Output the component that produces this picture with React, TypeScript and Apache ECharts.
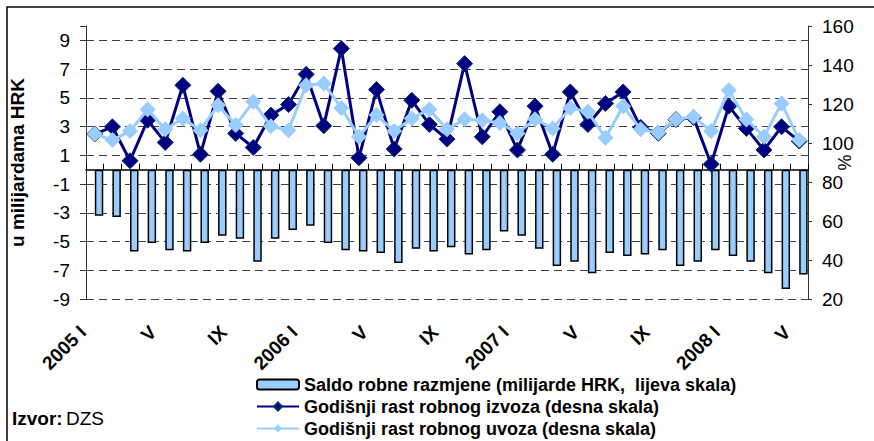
import React, { useEffect, useRef } from "react";
import * as echarts from "echarts";

const categories = [
  "2005 I", "II", "III", "IV", "V", "VI", "VII", "VIII", "IX", "X", "XI", "XII",
  "2006 I", "II", "III", "IV", "V", "VI", "VII", "VIII", "IX", "X", "XI", "XII",
  "2007 I", "II", "III", "IV", "V", "VI", "VII", "VIII", "IX", "X", "XI", "XII",
  "2008 I", "II", "III", "IV", "V",
];

const saldo = [
  -3.2, -3.3, -5.7, -5.1, -5.6, -5.7, -5.1, -4.6, -4.8, -6.4,
  -4.8, -4.2, -3.9, -5.1, -5.6, -5.7, -5.8, -6.5, -5.5, -5.7,
  -5.4, -5.9, -5.6, -4.3, -4.6, -5.5, -6.7, -6.4, -7.2, -5.8,
  -6.0, -5.9, -5.6, -6.7, -6.4, -5.6, -6.0, -6.4, -7.2, -8.3, -7.3,
];

const izvoz = [
  104.6, 108.3, 90.9, 111.7, 100.3, 129.6, 94.2, 126.5, 104.9, 97.7,
  114.3, 119.7, 135.2, 108.8, 148.4, 92.4, 127.4, 96.9, 121.9, 109.5,
  102.0, 140.7, 103.2, 116.0, 96.4, 118.9, 94.2, 126.2, 109.5, 120.3,
  126.2, 108.0, 105.0, 112.0, 113.0, 89.1, 118.9, 107.5, 96.4, 108.3, 101.0,
];

const uvoz = [
  104.6, 101.5, 106.1, 117.2, 107.0, 112.6, 106.6, 119.4, 109.2, 121.1,
  108.6, 106.6, 129.6, 130.5, 118.0, 103.2, 114.3, 106.1, 112.6, 117.2,
  107.0, 112.2, 111.7, 110.3, 104.9, 112.2, 107.5, 118.0, 116.0, 102.7,
  118.9, 107.0, 105.2, 112.1, 113.4, 106.1, 127.1, 112.1, 103.2, 120.3, 101.5,
];

const NAME_SALDO = "Saldo robne razmjene (milijarde HRK,  lijeva skala)";
const NAME_IZVOZ = "Godišnji rast robnog izvoza (desna skala)";
const NAME_UVOZ = "Godišnji rast robnog uvoza (desna skala)";

const FONT = "Arial, 'Liberation Sans', sans-serif";

export default function App() {
  const ref = useRef<HTMLDivElement>(null);

  useEffect(() => {
    document.body.style.margin = "0";
    if (!ref.current) return;
    const chart = echarts.init(ref.current, null, { renderer: "svg" });
    const gridColors = [
      "#404040", "#404040", "#404040", "#404040", "#404040",
      "#404040", "#404040", "#404040", "#404040", "#404040", "transparent",
    ];
    chart.setOption({
      animation: false,
      backgroundColor: "#ffffff",
      grid: { left: 85, right: 66, top: 26, bottom: 142, containLabel: false },
      legend: {
        data: [NAME_SALDO, NAME_IZVOZ, NAME_UVOZ],
        orient: "vertical",
        left: 256,
        top: 375,
        height: 66,
        padding: 0,
        itemWidth: 42,
        itemHeight: 10,
        itemGap: 3,
        textStyle: {
          fontFamily: FONT,
          fontWeight: "bold",
          fontSize: 18,
          lineHeight: 19,
          color: "#000",
        },
      },
      xAxis: [
        {
          type: "category",
          data: categories,
          position: "bottom",
          boundaryGap: true,
          axisLine: { show: false, onZero: false },
          axisTick: { show: false },
          splitLine: { show: false },
          axisLabel: {
            interval: 3,
            rotate: 45,
            margin: 18,
            padding: [0, 17, 0, 0],
            fontFamily: FONT,
            fontWeight: "bold",
            fontSize: 19,
            color: "#000",
          },
        },
        {
          type: "category",
          data: categories,
          position: "bottom",
          boundaryGap: true,
          axisLine: { show: true, onZero: true, lineStyle: { color: "#000", width: 1.5 } },
          axisTick: { show: true, inside: true, length: 6, interval: 0, lineStyle: { color: "#000" } },
          axisLabel: { show: false },
          splitLine: { show: false },
        },
      ],
      yAxis: [
        {
          type: "value",
          min: -9,
          max: 10,
          interval: 2,
          position: "left",
          name: "u milijardama HRK",
          nameLocation: "middle",
          nameGap: 59,
          nameRotate: 90,
          nameMoveOverlap: false,
          nameTextStyle: { fontFamily: FONT, fontWeight: "bold", fontSize: 19, color: "#000" },
          axisLine: { show: true, lineStyle: { color: "#333", width: 1 } },
          axisTick: { show: true, length: 6, lineStyle: { color: "#333" } },
          axisLabel: {
            fontFamily: FONT,
            fontSize: 19,
            color: "#000",
            margin: 16,
            formatter: (v: number) => (v === 10 ? "" : String(v)),
          },
          splitLine: {
            show: true,
            lineStyle: { type: [8, 5], color: gridColors, width: 1 },
          },
        },
        {
          type: "value",
          min: 20,
          max: 160,
          interval: 20,
          position: "right",
          name: "%",
          nameLocation: "middle",
          nameGap: 28,
          nameRotate: 90,
          nameMoveOverlap: false,
          nameTextStyle: { fontFamily: FONT, fontSize: 18, color: "#000" },
          axisLine: { show: true, lineStyle: { color: "#333", width: 1 } },
          axisTick: { show: true, length: 4, lineStyle: { color: "#333" } },
          axisLabel: { fontFamily: FONT, fontSize: 19, color: "#000", margin: 14 },
          splitLine: { show: false },
        },
      ],
      series: [
        {
          name: "_gap",
          type: "bar",
          xAxisIndex: 0,
          yAxisIndex: 0,
          data: [],
          barGap: "0%",
          barCategoryGap: "4%",
        },
        {
          name: NAME_SALDO,
          type: "bar",
          xAxisIndex: 0,
          yAxisIndex: 0,
          data: saldo,
          barGap: "0%",
          barCategoryGap: "4%",
          itemStyle: { color: "#99CCFF", borderColor: "#000", borderWidth: 1.5 },
          z: 2,
        },
        {
          name: NAME_IZVOZ,
          type: "line",
          xAxisIndex: 0,
          yAxisIndex: 1,
          data: izvoz,
          symbol: "diamond",
          symbolSize: 16,
          showAllSymbol: true,
          lineStyle: { color: "#000080", width: 3 },
          itemStyle: { color: "#000080", borderColor: "#003366", borderWidth: 1 },
          z: 3,
        },
        {
          name: NAME_UVOZ,
          type: "line",
          xAxisIndex: 0,
          yAxisIndex: 1,
          data: uvoz,
          symbol: "diamond",
          symbolSize: 16,
          showAllSymbol: true,
          lineStyle: { color: "#99CCFF", width: 3 },
          itemStyle: { color: "#99CCFF" },
          z: 4,
        },
      ],
      graphic: [
        {
          type: "rect",
          shape: { x: 7, y: 7, width: 900, height: 500 },
          style: { fill: "none", stroke: "#000", lineWidth: 1.5 },
          silent: true,
          z: -10,
        },
        {
          type: "text",
          left: 12,
          top: 409,
          style: {
            text: "{b|Izvor:} {n|DZS}",
            rich: {
              b: { fontFamily: FONT, fontWeight: "bold", fontSize: 19, fill: "#000" },
              n: { fontFamily: FONT, fontSize: 19, fill: "#000" },
            },
          },
        },
      ],
    });
    return () => chart.dispose();
  }, []);

  return <div ref={ref} style={{ width: 874, height: 441 }} />;
}
